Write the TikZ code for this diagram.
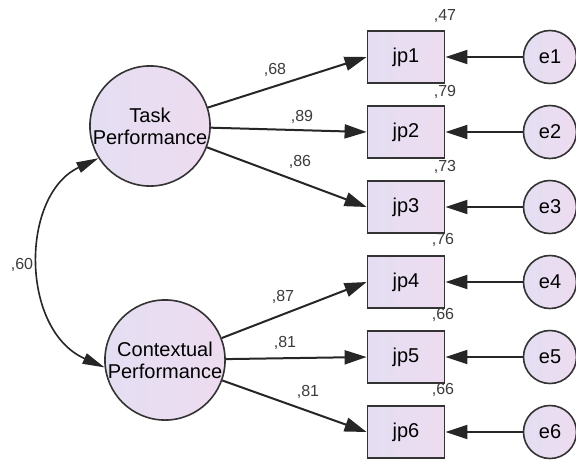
\documentclass[tikz,border=0pt]{standalone}
\usepackage{fontspec}
\setmainfont{Liberation Sans}
\usetikzlibrary{arrows.meta}
\definecolor{latfill}{RGB}{228,222,242}
\definecolor{latfillB}{RGB}{238,220,240}
\definecolor{lblcol}{RGB}{60,60,60}
\begin{document}
\begin{tikzpicture}[x=1pt,y=-1pt,
  every node/.style={font=\fontsize{20}{22}\selectfont},
  latent/.style={circle,draw=black!80,line width=1.6pt,minimum size=112pt,inner sep=0pt,
    left color=latfill,right color=latfillB,align=center},
  obs/.style={rectangle,draw=black!80,line width=1.8pt,minimum width=77pt,minimum height=52pt,
    inner sep=0pt,left color=latfill,right color=latfillB},
  err/.style={circle,draw=black!80,line width=1.6pt,minimum size=53pt,inner sep=0pt,
    left color=latfill,right color=latfillB},
  path/.style={line width=2pt,draw=black!85,-{Triangle[length=22pt,width=14pt]}},
  coef/.style={font=\fontsize{16}{17}\selectfont,text=lblcol,inner sep=0pt}]
\useasboundingbox (0,0) rectangle (576,464);
\fill[white] (0,0) rectangle (576,464);

% latent factors
\node[latent] (task) at (150,126) {Task\\Performance};
\node[latent] (ctx) at (165,360) {Contextual\\Performance};

% indicators and their error terms
\foreach \i/\y in {1/57,2/132,3/207,4/282,5/357,6/432}{
  \node[obs] (jp\i) at (406,\y) {jp\i};
  \node[err] (e\i) at (550,\y) {e\i};
  \draw[path] (e\i) -- (jp\i);
}

% loadings
\draw[path] (task) -- (jp1.west);
\draw[path] (task) -- (jp2.west);
\draw[path] (task) -- (jp3.west);
\draw[path] (ctx) -- (jp4.west);
\draw[path] (ctx) -- (jp5.west);
\draw[path] (ctx) -- (jp6.west);

% factor covariance
\draw[line width=1.6pt,draw=black!85,{Triangle[length=22pt,width=11pt]}-{Triangle[length=22pt,width=11pt]}]
  (task.212) .. controls (20,195) and (20,330) .. (ctx.187);

% coefficients
\node[coef] (c60) at (22,265) {,60};
\node[coef] (c68) at (275,70) {,68};
\node[coef] (c89) at (302,117) {,89};
\node[coef] (c86) at (300,162) {,86};
\node[coef] (c87) at (283,297) {,87};
\node[coef] (c81a) at (285,343) {,81};
\node[coef] (c81b) at (308,392) {,81};
\node[coef] (r1) at (445,16) {,47};
\node[coef] (r2) at (445,92) {,79};
\node[coef] (r3) at (445,167) {,73};
\node[coef] (r4) at (443,240) {,76};
\node[coef] (r5) at (443,315) {,66};
\node[coef] (r6) at (443,390) {,66};
\end{tikzpicture}
\end{document}
